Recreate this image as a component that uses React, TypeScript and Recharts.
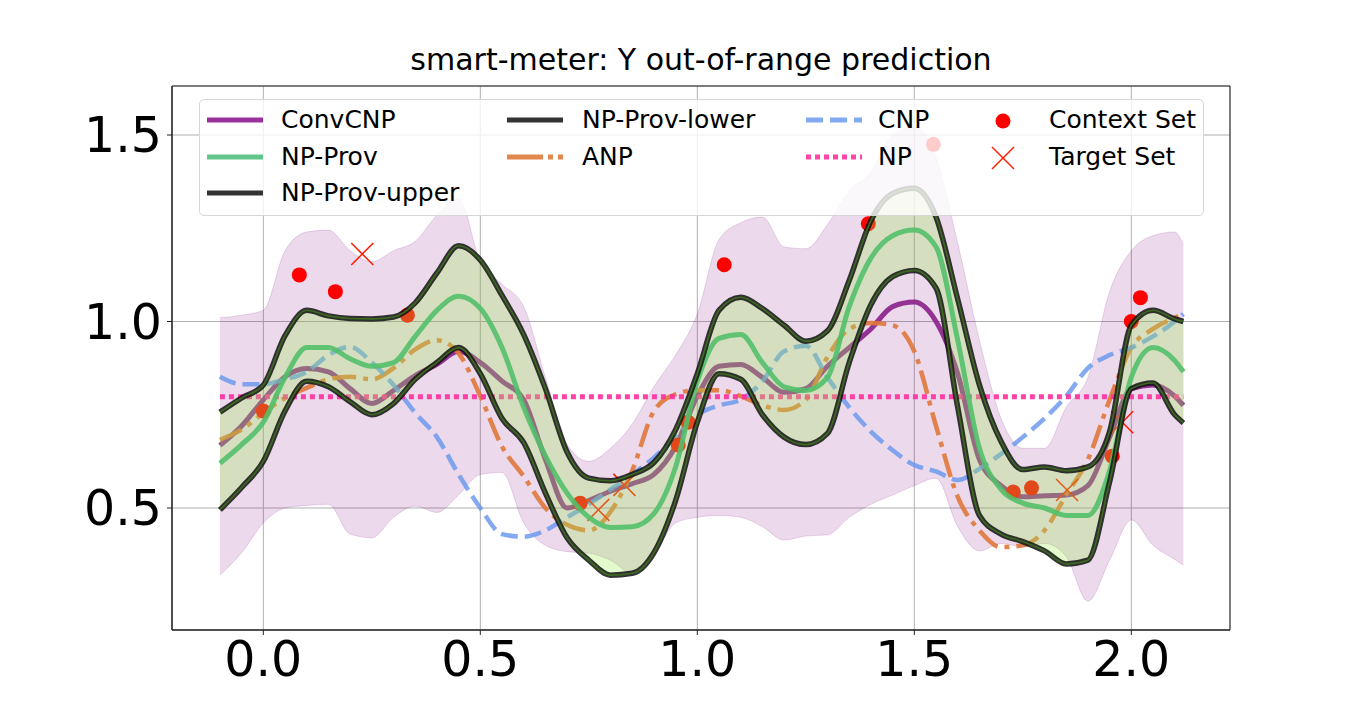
import React from "react";
import {
  ComposedChart,
  Line,
  Area,
  Scatter,
  XAxis,
  YAxis,
  CartesianGrid,
  ReferenceArea,
} from "recharts";

// x positions of the sampled curves
const xs = [
  -0.1, -0.05, 0, 0.05, 0.1, 0.15, 0.2, 0.25, 0.3, 0.35, 0.4, 0.45, 0.5, 0.55, 0.6, 0.65,
  0.7, 0.75, 0.8, 0.85, 0.9, 0.95, 1.0, 1.05, 1.1, 1.15, 1.2, 1.25, 1.3, 1.35, 1.4, 1.45,
  1.5, 1.55, 1.6, 1.65, 1.7, 1.75, 1.8, 1.85, 1.9, 1.95, 2.0, 2.05, 2.1, 2.12,
];

const convCNP = [
  0.668, 0.72, 0.79, 0.852, 0.874, 0.865, 0.82, 0.78, 0.815, 0.855, 0.885, 0.92, 0.89, 0.84, 0.79, 0.63,
  0.5, 0.52, 0.545, 0.565, 0.59, 0.665, 0.8, 0.88, 0.885, 0.85, 0.81, 0.82, 0.88, 0.93, 0.98, 1.04,
  1.052, 1.0, 0.86, 0.63, 0.56, 0.53, 0.533, 0.535, 0.56, 0.69, 0.82, 0.83, 0.8, 0.775,
];
const convLow = [
  0.32, 0.38, 0.46, 0.5, 0.507, 0.51, 0.43, 0.42, 0.475, 0.505, 0.488, 0.535, 0.59, 0.595, 0.46, 0.4,
  0.383, 0.379, 0.36, 0.325, 0.375, 0.46, 0.475, 0.48, 0.475, 0.45, 0.414, 0.425, 0.428, 0.475, 0.51, 0.535,
  0.56, 0.58, 0.45, 0.385, 0.405, 0.396, 0.405, 0.37, 0.25, 0.36, 0.468, 0.4, 0.362, 0.347,
];
const convHigh = [
  1.01, 1.017, 1.03, 1.19, 1.24, 1.245, 1.19, 1.16, 1.19, 1.215, 1.285, 1.33, 1.16, 1.1, 1.04, 0.85,
  0.67, 0.625, 0.66, 0.725, 0.825, 0.91, 1.02, 1.22, 1.265, 1.28, 1.2, 1.195, 1.26, 1.35, 1.4, 1.5,
  1.522, 1.44, 1.21, 0.95, 0.74, 0.66, 0.66, 0.77, 0.85, 1.08, 1.19, 1.23, 1.24, 1.205,
];
const npProv = [
  0.62, 0.67, 0.73, 0.85, 0.93, 0.93, 0.9, 0.88, 0.89, 0.96, 1.03, 1.068, 1.035, 0.93, 0.77, 0.64,
  0.54, 0.475, 0.448, 0.45, 0.485, 0.61, 0.84, 0.955, 0.965, 0.89, 0.825, 0.815, 0.85, 1.04, 1.17, 1.23,
  1.245, 1.2, 0.95, 0.66, 0.55, 0.513, 0.5, 0.48, 0.48, 0.6, 0.85, 0.93, 0.895, 0.865,
];
const npProvUpper = [
  0.757, 0.795, 0.83, 0.962, 1.03, 1.015, 1.008, 1.007, 1.012, 1.05, 1.13, 1.203, 1.165, 1.07, 0.965, 0.82,
  0.65, 0.58, 0.573, 0.59, 0.622, 0.71, 0.86, 1.03, 1.065, 1.035, 0.99, 0.947, 0.975, 1.11, 1.27, 1.343,
  1.357, 1.28, 1.06, 0.83, 0.678, 0.603, 0.61, 0.6, 0.61, 0.705, 0.99, 1.03, 1.007, 1.0,
];
const npProvLower = [
  0.495, 0.555, 0.625, 0.76, 0.84, 0.825, 0.785, 0.75, 0.78, 0.845, 0.89, 0.93, 0.86, 0.74, 0.675, 0.54,
  0.42, 0.36, 0.32, 0.325, 0.38, 0.52, 0.73, 0.86, 0.845, 0.75, 0.69, 0.67, 0.7, 0.89, 1.045, 1.12,
  1.137, 1.09, 0.77, 0.48, 0.43, 0.41, 0.385, 0.35, 0.36, 0.57, 0.82, 0.835, 0.75, 0.728,
];
const anp = [
  0.683, 0.71, 0.755, 0.795, 0.822, 0.845, 0.852, 0.845, 0.875, 0.925, 0.95, 0.915, 0.8, 0.665, 0.585, 0.5,
  0.455, 0.44, 0.49, 0.6, 0.76, 0.805, 0.816, 0.816, 0.8, 0.775, 0.763, 0.79, 0.905, 0.98, 0.996, 0.99,
  0.92, 0.72, 0.53, 0.44, 0.395, 0.4, 0.44, 0.535, 0.63, 0.79, 0.93, 0.98, 1.01, 1.02,
];
const cnp = [
  0.852, 0.832, 0.832, 0.845, 0.865, 0.91, 0.932, 0.89, 0.83, 0.755, 0.69, 0.59, 0.5, 0.43, 0.423, 0.44,
  0.475, 0.51, 0.55, 0.59, 0.635, 0.69, 0.75, 0.775, 0.79, 0.84, 0.92, 0.935, 0.85, 0.77, 0.705, 0.655,
  0.615, 0.598, 0.575, 0.605, 0.645, 0.69, 0.74, 0.8, 0.875, 0.91, 0.93, 0.96, 1.0, 1.02,
];
const np = [
  0.798, 0.798, 0.798, 0.798, 0.798, 0.798, 0.798, 0.798, 0.798, 0.798, 0.798, 0.798, 0.798, 0.798, 0.798, 0.798,
  0.798, 0.798, 0.798, 0.798, 0.798, 0.798, 0.798, 0.798, 0.798, 0.798, 0.798, 0.798, 0.798, 0.798, 0.798, 0.798,
  0.798, 0.798, 0.798, 0.798, 0.798, 0.798, 0.798, 0.798, 0.798, 0.798, 0.798, 0.798, 0.798, 0.798,
];

const contextX = [0.0, 0.083, 0.166, 0.332, 0.73, 0.956, 0.979, 1.062, 1.394, 1.544, 1.728, 1.77, 1.956, 2.0, 2.021];
const contextY = [0.76, 1.125, 1.08, 1.017, 0.513, 0.669, 0.73, 1.152, 1.262, 1.475, 0.543, 0.554, 0.639, 1.0, 1.064];
const targetX = [0.228, 0.772, 0.832, 1.852, 1.979];
const targetY = [1.181, 0.495, 0.562, 0.548, 0.73];

const xTicks = [0, 0.5, 1, 1.5, 2];
const yTicks = [0.5, 1, 1.5];
const xDomain = [-0.2104, 2.2274];
const yDomain = [0.1729, 1.6314];

const rows = xs.map((x, i) => ({
  x,
  convCNP: convCNP[i],
  convBand: [convLow[i], convHigh[i]],
  npProv: npProv[i],
  provBand: [npProvLower[i], npProvUpper[i]],
  upper: npProvUpper[i],
  lower: npProvLower[i],
  anp: anp[i],
  cnp: cnp[i],
  np: np[i],
}));
const contextPts = contextX.map((x, i) => ({ x, y: contextY[i] }));
const targetPts = targetX.map((x, i) => ({ x, y: targetY[i] }));

const FONT = "DejaVu Sans, Liberation Sans, sans-serif";
const LEGEND_SIZE = 25;

const Dot = (p: any) => <circle cx={p.cx} cy={p.cy} r={7.5} fill="#ff0000" />;
const Cross = (p: any) => (
  <g stroke="#ff1a00" strokeWidth={1.5}>
    <line x1={p.cx - 11} y1={p.cy - 11} x2={p.cx + 11} y2={p.cy + 11} />
    <line x1={p.cx - 11} y1={p.cy + 11} x2={p.cx + 11} y2={p.cy - 11} />
  </g>
);

const Handle = ({ color, dash, opacity = 1 }: any) => (
  <svg width={56} height={14} style={{ display: "block" }}>
    <line x1={0} y1={7} x2={56} y2={7} stroke={color} strokeWidth={5} strokeDasharray={dash} strokeOpacity={opacity} />
  </svg>
);

const legendItems = [
  { label: "ConvCNP", hx: 206, tx: 280, cy: 119, color: "#993399" },
  { label: "NP-Prov", hx: 206, tx: 280, cy: 156, color: "#62c58a" },
  { label: "NP-Prov-upper", hx: 206, tx: 280, cy: 192, color: "#333333" },
  { label: "NP-Prov-lower", hx: 506, tx: 581, cy: 119, color: "#333333" },
  { label: "ANP", hx: 506, tx: 581, cy: 156, color: "#e0884e", dash: "36 5 5 5" },
  { label: "CNP", hx: 805, tx: 877, cy: 119, color: "#83aaf0", dash: "17 7" },
  { label: "NP", hx: 805, tx: 877, cy: 156, color: "#ff45a8", dash: "5 4" },
];

const textStyle = (left: number, cy: number): React.CSSProperties => ({
  position: "absolute",
  left: left - 199,
  top: cy - 15 - 99,
  fontSize: LEGEND_SIZE,
  lineHeight: "30px",
  whiteSpace: "nowrap",
});

const ChartLegend = () => (
  <div
    style={{
      position: "absolute",
      left: 199,
      top: 99,
      width: 1005,
      height: 117,
      background: "rgba(255,255,255,0.8)",
      border: "1px solid #d6d6d6",
      borderRadius: 5,
      boxSizing: "border-box",
    }}
  >
    {legendItems.map((it) => (
      <React.Fragment key={it.label}>
        <div style={{ position: "absolute", left: it.hx - 199, top: it.cy - 7 - 99 }}>
          <Handle color={it.color} dash={it.dash} />
        </div>
        <div style={textStyle(it.tx, it.cy)}>{it.label}</div>
      </React.Fragment>
    ))}
    <svg style={{ position: "absolute", left: 1002 - 199 - 15, top: 120 - 99 - 15 }} width={30} height={30}>
      <circle cx={15} cy={15} r={7.5} fill="#ff0000" />
    </svg>
    <svg style={{ position: "absolute", left: 1002 - 199 - 15, top: 157 - 99 - 15 }} width={30} height={30}>
      <g stroke="#ff1a00" strokeWidth={1.5}>
        <line x1={4} y1={4} x2={26} y2={26} />
        <line x1={4} y1={26} x2={26} y2={4} />
      </g>
    </svg>
    <div style={textStyle(1048, 119)}>Context Set</div>
    <div style={textStyle(1048, 156)}>Target Set</div>
  </div>
);

const blackLine = (key: string, z: number) => [
  <Line
    key={key + "-k"}
    data={rows}
    dataKey={key}
    type="monotone"
    stroke="#111111"
    strokeOpacity={0.85}
    strokeWidth={5.5}
    dot={false}
    activeDot={false}
    isAnimationActive={false}
    zIndex={z}
  />,
  <Line
    key={key + "-g"}
    data={rows}
    dataKey={key}
    type="monotone"
    stroke="#3c6a20"
    strokeWidth={1.6}
    dot={false}
    activeDot={false}
    isAnimationActive={false}
    zIndex={z + 1}
  />,
];

export default function App() {
  return (
    <div
      style={{
        position: "absolute",
        left: 0,
        top: 0,
        width: 1368,
        height: 720,
        background: "#fff",
        fontFamily: FONT,
        color: "#000",
      }}
    >
      <div
        style={{
          position: "absolute",
          left: 172,
          width: 1058,
          top: 45,
          fontSize: 30,
          lineHeight: "30px",
          textAlign: "center",
        }}
      >
        smart-meter: Y out-of-range prediction
      </div>
      <ComposedChart
        width={1368}
        height={720}
        data={rows}
        margin={{ top: 86, right: 138, left: 72, bottom: 30 }}
        style={{ position: "absolute", left: 0, top: 0 }}
      >
        <CartesianGrid stroke="#b0b0b0" strokeWidth={1} />
        <XAxis
          dataKey="x"
          type="number"
          domain={xDomain}
          ticks={xTicks}
          allowDataOverflow
          height={60}
          tickFormatter={(v: number) => v.toFixed(1)}
          tick={{ fontSize: 49, fill: "#000", fontFamily: FONT }}
          tickSize={5}
          tickMargin={6}
          stroke="#222"
        />
        <YAxis
          type="number"
          domain={yDomain}
          ticks={yTicks}
          allowDataOverflow
          width={100}
          tickFormatter={(v: number) => v.toFixed(1)}
          tick={{ fontSize: 49, fill: "#000", fontFamily: FONT }}
          tickSize={5}
          tickMargin={5}
          stroke="#222"
        />
        <Area
          dataKey="convBand"
          type="monotone"
          fill="#800080"
          fillOpacity={0.15}
          stroke="#800080"
          strokeOpacity={0.15}
          strokeWidth={1}
          dot={false}
          activeDot={false}
          isAnimationActive={false}
          zIndex={100}
        />
        <Line dataKey="convCNP" type="monotone" stroke="#8a1f8a" strokeOpacity={0.9} strokeWidth={5} dot={false} activeDot={false} isAnimationActive={false} zIndex={110} />
        <Line dataKey="anp" type="monotone" stroke="#e0773a" strokeOpacity={0.9} strokeWidth={4.5} strokeDasharray="24 7 5 7" dot={false} activeDot={false} isAnimationActive={false} zIndex={120} />
        <Line dataKey="cnp" type="monotone" stroke="#6495ed" strokeOpacity={0.8} strokeWidth={4.5} strokeDasharray="17 7" dot={false} activeDot={false} isAnimationActive={false} zIndex={130} />
        <Line dataKey="np" type="monotone" stroke="#ff2d9e" strokeOpacity={0.9} strokeWidth={5} strokeDasharray="5 4" dot={false} activeDot={false} isAnimationActive={false} zIndex={140} />
        <Scatter data={contextPts} dataKey="y" shape={Dot} isAnimationActive={false} zIndex={150} />
        <Scatter data={targetPts} dataKey="y" shape={Cross} isAnimationActive={false} zIndex={160} />
        <Area
          dataKey="provBand"
          type="monotone"
          fill="#a0ee55"
          fillOpacity={0.3}
          stroke="none"
          dot={false}
          activeDot={false}
          isAnimationActive={false}
          zIndex={200}
        />
        <Line dataKey="npProv" type="monotone" stroke="#52c06a" strokeOpacity={0.9} strokeWidth={5} dot={false} activeDot={false} isAnimationActive={false} zIndex={300} />
        {blackLine("upper", 310)}
        {blackLine("lower", 320)}
        <ReferenceArea
          x1={xDomain[0]}
          x2={xDomain[1]}
          y1={yDomain[0]}
          y2={yDomain[1]}
          fill="none"
          stroke="#222"
          strokeWidth={1}
          ifOverflow="visible"
          zIndex={900}
        />
      </ComposedChart>
      <ChartLegend />
    </div>
  );
}
